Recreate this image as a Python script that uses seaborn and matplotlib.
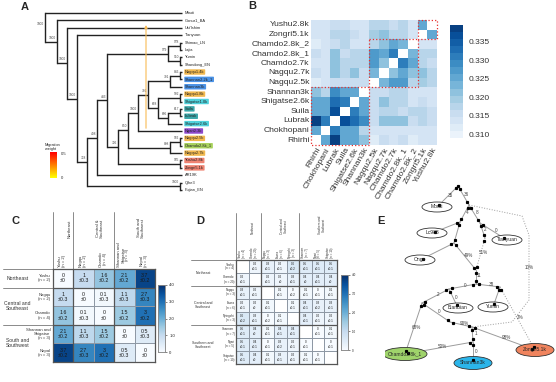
import numpy as np
import pandas as pd
import matplotlib
matplotlib.use("Agg")
import matplotlib.pyplot as plt
import seaborn as sns
from matplotlib.patches import Rectangle, Ellipse

sns.set_theme(style="white")
plt.rcParams['font.family'] = ['Liberation Sans', 'DejaVu Sans']

# ---------------- data ----------------
# A: tree
leaves = ["Mbuti", "Gonur1_BA", "Ust'Ishim", "Tianyuan", "Shimao_LN", "Lajia", "Yumin", "Shandong_EN",
          "Nagqu1.4k", "Shannan2.2k_1", "Shannan3k", "Nagqu1.8k", "Shigatse1.0k", "Suila", "Lubrak",
          "Shigatse2.6k", "Ngari2.3k", "Nagqu2.5k", "Chamdo2.8k_1", "Nagqu2.7k", "Yushu2.8k", "Zongri5.1k",
          "AR19K", "Qihe3", "Fujian_EN"]
leaf_group = [None] * 8 + ["Nagqu", "Shannan", "Shannan", "Nagqu", "Shigatse", "Nepal", "Nepal", "Shigatse",
                           "Ngari", "Nagqu", "Chamdo", "Nagqu", "Yushu", "Yushu", None, None, None]
group_colors = {"Nagqu": "#f2b94f", "Shannan": "#4a92e6", "Shigatse": "#4fd2dc", "Nepal": "#3aa7a9",
                "Ngari": "#8e49cc", "Chamdo": "#a8d25c", "Yushu": "#ef8472"}
# (name, children, depth, bootstrap)
tree_nodes = [
    ("n1", [4, 5], 180, "978"), ("n2", [6, 7], 180, "910"), ("n3", ["n1", "n2"], 168, "979"),
    ("n4", [8, 9], 180, "846"), ("n5", ["n4", 10], 170, "791"), ("n6", [11, 12], 180, "592"),
    ("n7", [13, 14], 180, "617"), ("n8", ["n7", 15], 168, "686"), ("n9", ["n6", "n8"], 158, "668"),
    ("n10", ["n5", "n9"], 148, "791"), ("n11", ["n10", 16], 138, "1000"), ("n12", [17, 18], 180, "982"),
    ("n13", ["n12", 19], 170, "808"), ("n14", ["n11", "n13"], 128, "850"), ("n15", [20, 21], 180, "985"),
    ("n16", ["n14", "n15"], 118, "726"), ("n17", ["n3", "n16"], 107, "483"), ("n18", ["n17", 22], 97, "498"),
    ("n19", [23, 24], 180, "1000"), ("n20", ["n18", "n19"], 87, "728"), ("n21", [3, "n20"], 77, "1000"),
    ("n22", [2, "n21"], 67, "1000"), ("n23", [1, "n22"], 57, "1000"), ("n24", [0, "n23"], 45, "1000"),
]
leaf_depth = 182

# B: outgroup f3 matrix
f3_pops = ["Rhirhi", "Chokhopani", "Lubrak", "Suila", "Shigatse2.6k", "Shannan3k", "Nagqu2.5k",
           "Nagqu2.7k", "Chamdo2.7k", "Chamdo2.8k_1", "Chamdo2.8k_2", "Zongri5.1k", "Yushu2.8k"]
f3_lower = [
    [0.325],
    [0.338, 0.330],
    [0.326, 0.326, 0.337],
    [0.326, 0.325, 0.333, 0.330],
    [0.322, 0.318, 0.329, 0.325, 0.325],
    [0.312, 0.313, 0.316, 0.315, 0.315, 0.316],
    [0.315, 0.313, 0.322, 0.317, 0.321, 0.316, 0.323],
    [0.314, 0.313, 0.321, 0.317, 0.318, 0.318, 0.327, 0.322],
    [0.315, 0.313, 0.322, 0.315, 0.318, 0.317, 0.327, 0.326, 0.331],
    [0.311, 0.313, 0.315, 0.317, 0.314, 0.313, 0.318, 0.321, 0.325, 0.323],
    [0.314, 0.313, 0.317, 0.317, 0.316, 0.314, 0.320, 0.322, 0.318, 0.318, 0.314],
    [0.314, 0.313, 0.316, 0.316, 0.314, 0.314, 0.317, 0.317, 0.316, 0.318, 0.313, 0.325],
]
f3_blocks = [(0, 6), (6, 11), (11, 13)]

# C: ancient Fst
c_names = ["Yushu", "Nagqu", "Chamdo", "Shannan and\nShigatse", "Nepal"]
c_n = [2, 2, 4, 3, 3]
c_fst = [[0, 1, 1.6, 2.1, 3.7], [1, 0, 0.1, 1.1, 2.7], [1.6, 0.1, 0, 1.5, 3],
         [2.1, 1.1, 1.5, 0, 0.5], [3.7, 2.7, 3, 0.5, 0]]
c_sd = [[0, 0.3, 0.2, 0.2, 0.2], [0.3, 0, 0.3, 0.3, 0.3], [0.2, 0.3, 0, 0.2, 0.2],
        [0.2, 0.3, 0.2, 0, 0.3], [0.2, 0.3, 0.2, 0.3, 0]]
c_groups = [("Northeast", 0, 1), ("Central &\nSoutheast", 1, 3), ("South and\nSouthwest", 3, 5)]
c_row_groups = ["Northeast", "Central and\nSoutheast", "South and\nSouthwest"]

# D: present-day Fst
d_names = ["Yushu", "Chamdo", "Nagqu", "Lhasa", "Nyingchi", "Shannan", "Ngari", "Shigatse"]
d_n = [4, 20, 3, 6, 3, 7, 5, 10]
d_fst = [[np.nan, 0.2, 0.3, 0.2, 0.6, 0.5, 0.5, 0.5],
         [0.2, np.nan, 0.2, 0.2, 0.3, 0.4, 0.4, 0.4],
         [0.3, 0.2, np.nan, 0.1, 0, 0.1, 0, 0.1],
         [0.2, 0.2, 0.1, np.nan, 0.1, 0.4, 0.3, 0.3],
         [0.6, 0.3, 0, 0.1, np.nan, 0.4, 0.2, 0.2],
         [0.5, 0.4, 0.1, 0.4, 0.4, np.nan, 0, 0.1],
         [0.5, 0.4, 0, 0.3, 0.2, 0, np.nan, 0],
         [0.5, 0.4, 0.1, 0.3, 0.2, 0.1, 0, np.nan]]
d_sd = [[0, 0.1, 0.1, 0.1, 0.2, 0.1, 0.1, 0.1],
        [0.1, 0, 0.1, 0, 0.1, 0, 0.1, 0],
        [0.1, 0.1, 0, 0.1, 0.2, 0.1, 0.1, 0.1],
        [0.1, 0, 0.1, 0, 0.1, 0.1, 0.2, 0.1],
        [0.2, 0.1, 0.2, 0.1, 0, 0.1, 0.1, 0.1],
        [0.1, 0, 0.1, 0.1, 0.1, 0, 0.1, 0.1],
        [0.1, 0.1, 0.1, 0.2, 0.1, 0.1, 0, 0.1],
        [0.1, 0, 0.1, 0.1, 0.1, 0.1, 0.1, 0]]
d_groups = [("Northeast", 0, 2), ("Central and\nSoutheast", 2, 5), ("Southern and\nSouthwest", 5, 8)]

# E: admixture graph layout
e_nodes = {"r": (458, 186), "a": (469, 205), "b": (460, 222), "c": (480, 223), "d": (485, 238),
           "e": (454, 243), "f": (476, 270), "g": (476, 284), "h": (449, 289), "i": (500, 287),
           "j": (422, 303), "k": (450, 322), "m": (472, 327), "n": (473, 342),
           "Mbuti": (437, 207), "Lc988": (432, 233), "Tianyuan": (507, 240), "Onge": (420, 260),
           "Bianbian": (458, 308), "Yumin": (493, 307), "Chamdo2.8k_1": (405, 354),
           "Shannan3k": (473, 363), "Zongri5.1k": (535, 350)}
e_leaf_colors = {"Chamdo2.8k_1": "#9fd36b", "Shannan3k": "#2bb5ea", "Zongri5.1k": "#f0845e"}
e_edges = [("r", "Mbuti", "35", "-"), ("r", "a", "36", "-"), ("a", "b", "4", "-"), ("a", "c", "8", "-"),
           ("c", "Tianyuan", "0", "-"), ("c", "d", "2", "-"), ("b", "Lc988", "", "-"), ("b", "e", "", "-"),
           ("e", "Onge", "", "-"), ("e", "f", "49%", "-"), ("d", "f", "51%", ":"), ("f", "g", "11", "-"),
           ("g", "h", "0", "-"), ("g", "i", "38", "-"), ("h", "j", "2", "-"), ("h", "Bianbian", "0", "-"),
           ("i", "Yumin", "", "-"), ("i", "Zongri5.1k", "2%", ":"), ("j", "Chamdo2.8k_1", "68%", "-"),
           ("j", "k", "0", "-"), ("k", "m", "90%", "-"), ("m", "n", "1", "-"),
           ("m", "Zongri5.1k", "98%", "-"), ("n", "Shannan3k", "0", "-"), ("n", "Chamdo2.8k_1", "50%", "-")]
e_long_edge = [(469, 205), (522, 216), (529, 235), (529, 300), (512, 322), (472, 327)]

# ---------------- figure ----------------
W, H = 556, 382
fig = plt.figure(figsize=(W / 100, H / 100), dpi=100)


def px_axes(x0, y0, x1, y1):
    return fig.add_axes([x0 / W, 1 - y1 / H, (x1 - x0) / W, (y1 - y0) / H])


for lab, x, y in [("A", 25, 7), ("B", 252, 6), ("C", 15, 221), ("D", 200, 221), ("E", 381, 221)]:
    fig.text(x / W, 1 - y / H, lab, fontsize=8, fontweight="bold", ha="center", va="center")

# ---- A: tree ----
ax_a = px_axes(40, 8, 232, 195)
ax_a.set_xlim(40, 232)
ax_a.set_ylim(24.68, -0.68)
ax_a.axis("off")
node_y = {i: float(i) for i in range(len(leaves))}
node_x = {i: leaf_depth for i in range(len(leaves))}
for name, kids, depth, boot in tree_nodes:
    ys = [node_y[k] for k in kids]
    node_y[name] = (min(ys) + max(ys)) / 2
    node_x[name] = depth
    ax_a.plot([depth, depth], [min(ys), max(ys)], color="#222222", lw=1.0, solid_capstyle="projecting")
    for k in kids:
        ax_a.plot([depth, node_x[k]], [node_y[k], node_y[k]], color="#222222", lw=1.0,
                  solid_capstyle="butt")
    ax_a.text(depth - 0.8, node_y[name] - 0.25, boot, fontsize=2.3, ha="right", va="bottom", color="#444444")
for i, name in enumerate(leaves):
    g = leaf_group[i]
    kw = {}
    if g is not None:
        kw["bbox"] = dict(boxstyle="round,pad=0.18", fc=group_colors[g], ec="none")
    ax_a.text(leaf_depth + 3, i, name, fontsize=2.9, va="center", ha="left", **kw)
ax_a.annotate("", xy=(146, 1.25), xytext=(146, 16.0),
              arrowprops=dict(arrowstyle="-|>", color="#f8bb55", lw=0.8, mutation_scale=4))
# migration weight bar
ax_m = px_axes(50, 152, 57, 178)
ax_m.imshow(np.linspace(0, 1, 50).reshape(-1, 1), aspect="auto", origin="lower", cmap="autumn_r")
ax_m.set_xticks([])
ax_m.set_yticks([])
for s in ax_m.spines.values():
    s.set_visible(False)
fig.text(45 / W, 1 - 147 / H, "Migration\nweight", fontsize=2.8, ha="left", va="center")
fig.text(61 / W, 1 - 154 / H, "0.5", fontsize=3, ha="left", va="center")
fig.text(61 / W, 1 - 178 / H, "0", fontsize=3, ha="left", va="center")

# ---- B: f3 heatmap ----
mat = np.full((len(f3_pops), len(f3_pops)), np.nan)
for i, row in enumerate(f3_lower, start=1):
    for j, v in enumerate(row):
        mat[i, j] = mat[j, i] = v
df_b = pd.DataFrame(mat, index=f3_pops, columns=f3_pops).iloc[::-1]
ax_b = px_axes(311, 20, 437, 145)
cax_b = px_axes(450, 25, 463, 138)
sns.heatmap(df_b, ax=ax_b, cbar_ax=cax_b, cmap=sns.color_palette("Blues", 16), vmin=0.309, vmax=0.3395,
            xticklabels=True, yticklabels=True)
ax_b.tick_params(length=0, pad=1)
ax_b.set_yticklabels(df_b.index, fontsize=6.1, rotation=0, color="#333333")
ax_b.set_xticklabels(df_b.columns, fontsize=6.1, rotation=60, ha="right", rotation_mode="anchor",
                     color="#333333")
ax_b.set_xlabel("")
ax_b.set_ylabel("")
nb = len(f3_pops)
for s, e in f3_blocks:
    ax_b.add_patch(Rectangle((s, nb - e), e - s, e - s, fill=False, ec="#e8312f", ls=":", lw=0.9,
                             clip_on=False))
cax_b.set_yticks([0.310, 0.315, 0.320, 0.325, 0.330, 0.335])
cax_b.tick_params(labelsize=6, length=0, pad=4, labelcolor="#333333")


# ---- C and D: Fst heatmaps ----
def fst_panel(ax, cax, names, ns, vals, sds, groups, row_groups, fs, fs_lab, head_h, left_x, label_center,
              cbar_ticks):
    k = len(names)
    annot = [["" if np.isnan(vals[r][c]) else f"{vals[r][c]:g}\n\u00b1{sds[r][c]:g}" for c in range(k)]
             for r in range(k)]
    df = pd.DataFrame(vals, index=names, columns=names)
    sns.heatmap(df, ax=ax, cbar_ax=cax, cmap="Blues", vmin=0, vmax=4, annot=np.array(annot), fmt="",
                annot_kws=dict(size=fs, color="#1a1a1a", linespacing=1.1), linewidths=0.5,
                linecolor="#8e98a4", xticklabels=False, yticklabels=False)
    ax.set_xlabel("")
    ax.set_ylabel("")
    for _, s, e in groups:
        if s > 0:
            ax.axhline(s, color="#555555", lw=0.9)
            ax.axvline(s, color="#555555", lw=0.9)
        ax.plot([s, s], [0, -head_h], color="#777777", lw=0.6, clip_on=False)
        ax.plot([left_x, 0], [s, s], color="#777777", lw=0.6, clip_on=False)
    for spine in ax.spines.values():
        spine.set_visible(True)
        spine.set_color("#555555")
        spine.set_linewidth(0.9)
    for j, (nm, n) in enumerate(zip(names, ns)):
        ax.text(j + 0.45, -0.12, f"{nm}\n(n = {n})", rotation=90, fontsize=fs_lab, ha="center", va="bottom",
                color="#333333", linespacing=1.0)
        ax.text(-0.12, j + 0.5, f"{nm}\n(n = {n})", fontsize=fs_lab, ha="right", va="center",
                color="#333333", linespacing=1.0)
    for (gname, s, e), rg in zip(groups, row_groups):
        ax.text((s + e) / 2 + 0.3, -head_h * 0.55, gname, rotation=90, fontsize=fs_lab, ha="center",
                va="bottom", color="#333333", linespacing=1.0)
        ax.text(label_center, (s + e) / 2, rg, fontsize=fs_lab * 1.15, ha="center", va="center",
                color="#333333", linespacing=1.0)
    cax.set_yticks([0, 1, 2, 3, 4])
    cax.set_yticklabels(cbar_ticks)
    cax.tick_params(labelsize=fs_lab, length=1.5, width=0.4, pad=1.5)
    for spine in cax.spines.values():
        spine.set_visible(True)
        spine.set_color("#888888")
        spine.set_linewidth(0.5)


ax_c = px_axes(53, 269, 155, 362)
cax_c = px_axes(158, 285, 165, 352)
fst_panel(ax_c, cax_c, c_names, c_n, np.array(c_fst, float), c_sd, c_groups, c_row_groups, 3.8, 3.1,
          3.05, -2.45, -1.75, ["0", "1.0", "2.0", "3.0", "4.0"])

ax_d = px_axes(236, 260, 337, 364)
cax_d = px_axes(341, 275, 348, 350)
fst_panel(ax_d, cax_d, d_names, d_n, np.array(d_fst, float), d_sd, d_groups,
          [g[0] for g in d_groups], 2.2, 2.2, 3.6, -3.6, -2.6, ["0", "1.0", "2.0", "3.0", "4.0"])

# ---- E: admixture graph ----
ax_e = px_axes(385, 175, 556, 382)
ax_e.set_xlim(385, 556)
ax_e.set_ylim(382, 175)
ax_e.axis("off")
edge_col = "#9c9c9c"
for src, dst, lab, ls in e_edges:
    (x0, y0), (x1, y1) = e_nodes[src], e_nodes[dst]
    ax_e.plot([x0, x1], [y0, y1], color=edge_col, lw=0.7, ls=ls, zorder=1)
    dx, dy = x1 - x0, y1 - y0
    L = np.hypot(dx, dy)
    for t in (3.0 / L, 1 - 3.0 / L):
        ax_e.plot(x0 + dx * t, y0 + dy * t, "s", ms=1.3, color="black", zorder=3)
    if lab:
        ax_e.text((x0 + x1) / 2 + 3, (y0 + y1) / 2 - 1, lab, fontsize=3.3, color="#444444",
                  ha="center", va="center", zorder=4)
lx, ly = zip(*e_long_edge)
ax_e.plot(lx, ly, color=edge_col, lw=0.7, ls=":", zorder=1)
ax_e.text(529, 268, "10%", fontsize=3.3, color="#444444", ha="center", va="center")
ax_e.plot(*e_nodes["r"], "s", ms=1.3, color="black")
for name in ["Mbuti", "Lc988", "Tianyuan", "Onge", "Bianbian", "Yumin", "Chamdo2.8k_1", "Shannan3k",
             "Zongri5.1k"]:
    x, y = e_nodes[name]
    fc = e_leaf_colors.get(name, "white")
    w = 30 if name not in e_leaf_colors else 38
    if name == "Chamdo2.8k_1":
        w = 44
    ax_e.add_patch(Ellipse((x, y), w, 10 if name not in e_leaf_colors else 13, fc=fc, ec="#333333",
                           lw=0.6, zorder=2))
    ax_e.text(x, y, name, fontsize=3.6, ha="center", va="center", zorder=4)

fig.savefig("out.png", dpi=100)
